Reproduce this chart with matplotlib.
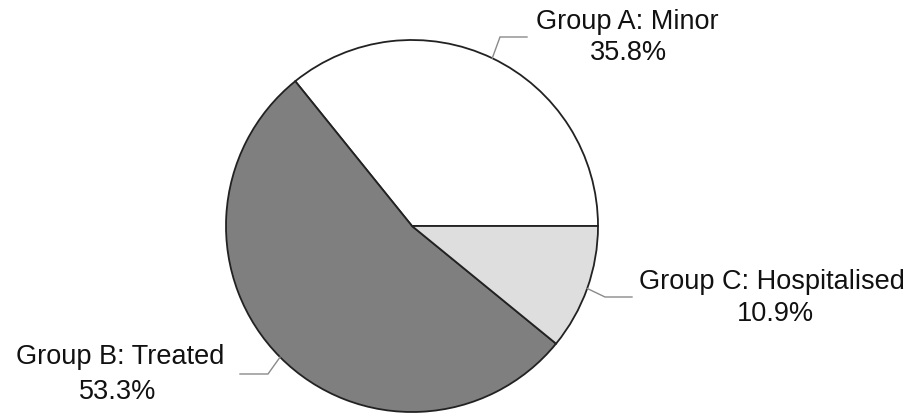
import numpy as np
import matplotlib
matplotlib.use("Agg")
import matplotlib.pyplot as plt

groups = ["Group A: Minor", "Group B: Treated", "Group C: Hospitalised"]
shares = [35.8, 53.3, 10.9]
colors = ["#ffffff", "#7f7f7f", "#dedede"]

plt.rcParams["font.family"] = ["Liberation Sans", "DejaVu Sans"]

fig = plt.figure(figsize=(9.16, 4.2), dpi=100)
ax = fig.add_axes([0, 0, 1, 1])

cx, cy, r = 412, 194, 186
wedges, _ = ax.pie(shares, colors=colors, startangle=0, counterclock=True,
                   center=(cx, cy), radius=r, frame=True,
                   wedgeprops=dict(edgecolor="#222222", linewidth=1.3))
ax.set_xlim(0, 916)
ax.set_ylim(0, 420)
ax.set_aspect("equal")
ax.axis("off")

# leader lines: (kink point, end point) and label placement, in pixel-ish coords
layout = [
    ((500, 383), (527, 383), (627, 398), (628, 367)),
    ((268, 46), (240, 46), (120, 63), (118, 28)),
    ((605, 123), (632, 123), (772, 138), (775, 106)),
]
for w, pct, name, (k, e, t1, t2) in zip(wedges, shares, groups, layout):
    mid = np.deg2rad((w.theta1 + w.theta2) / 2)
    sx, sy = cx + r * np.cos(mid), cy + r * np.sin(mid)
    ax.plot([sx, k[0], e[0]], [sy, k[1], e[1]], color="#8a8a8a", lw=1.0,
            solid_joinstyle="miter")
    ax.text(t1[0], t1[1], name, ha="center", va="center", fontsize=19.5, color="#111111")
    ax.text(t2[0], t2[1], f"{pct:.1f}%", ha="center", va="center", fontsize=19.5, color="#111111")

fig.savefig("out.png", dpi=100)
